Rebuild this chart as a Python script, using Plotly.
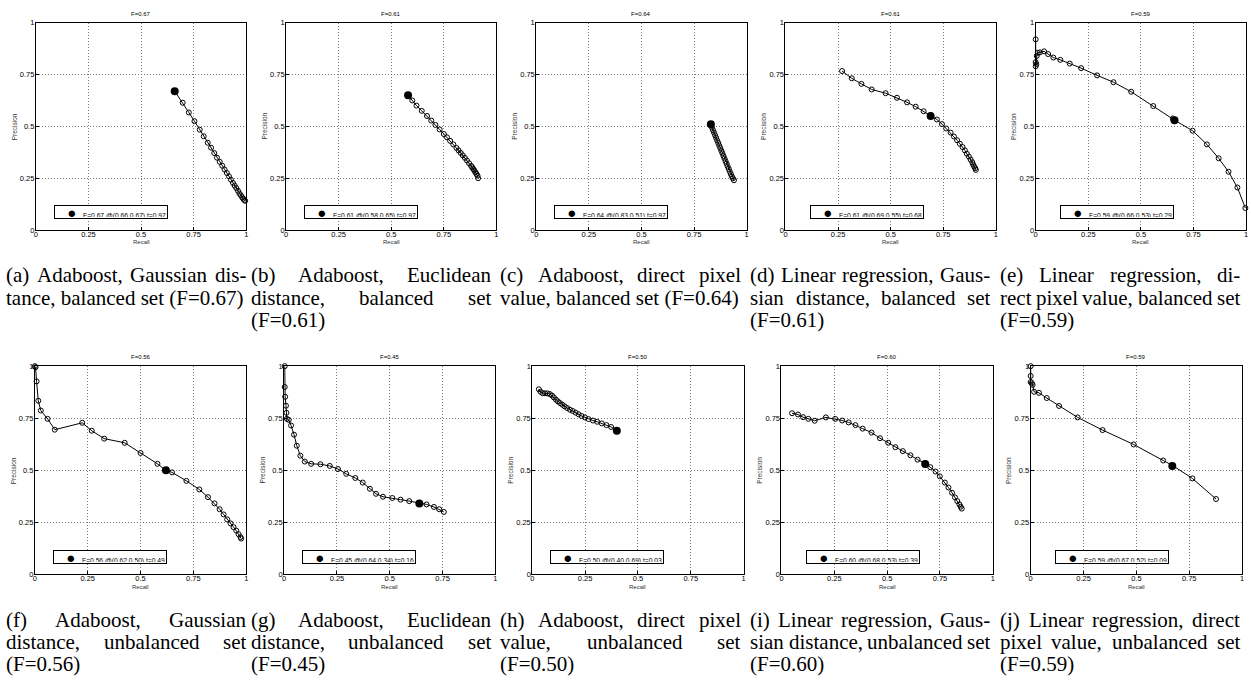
import plotly.graph_objects as go

# ---------------- data ----------------
recall_a = [0.66, 0.698, 0.727, 0.754, 0.779, 0.798, 0.817, 0.833, 0.848, 0.861, 0.874, 0.886, 0.897,
            0.908, 0.918, 0.927, 0.937, 0.945, 0.953, 0.961, 0.968, 0.975, 0.981, 0.986, 0.991, 0.995]
precision_a = [0.67, 0.614, 0.567, 0.525, 0.484, 0.452, 0.421, 0.397, 0.371, 0.349, 0.329, 0.310, 0.292,
               0.275, 0.259, 0.243, 0.227, 0.214, 0.202, 0.189, 0.176, 0.167, 0.157, 0.151, 0.144, 0.141]

recall_b = [0.58, 0.60, 0.62, 0.645, 0.67, 0.69, 0.71, 0.73, 0.75, 0.765, 0.78, 0.795, 0.81, 0.82,
            0.83, 0.84, 0.85, 0.86, 0.87, 0.88, 0.885, 0.89, 0.895, 0.90, 0.905, 0.91, 0.913]
precision_b = [0.65, 0.625, 0.60, 0.575, 0.55, 0.528, 0.507, 0.485, 0.463, 0.447, 0.43, 0.413, 0.396, 0.384,
               0.372, 0.36, 0.348, 0.335, 0.322, 0.309, 0.302, 0.294, 0.287, 0.279, 0.271, 0.262, 0.25]

recall_c = [0.83, 0.835, 0.84, 0.845, 0.85, 0.855, 0.86, 0.865, 0.87, 0.875, 0.88, 0.885, 0.89,
            0.895, 0.90, 0.905, 0.91, 0.915, 0.92, 0.925, 0.93, 0.935, 0.94]
precision_c = [0.51, 0.495, 0.482, 0.47, 0.457, 0.445, 0.432, 0.42, 0.407, 0.395, 0.382, 0.37, 0.357,
               0.345, 0.332, 0.32, 0.307, 0.295, 0.282, 0.27, 0.258, 0.249, 0.24]

recall_d = [0.269, 0.315, 0.361, 0.41, 0.476, 0.530, 0.578, 0.619, 0.657, 0.69, 0.720, 0.744, 0.764, 0.785,
            0.801, 0.816, 0.829, 0.842, 0.853, 0.862, 0.872, 0.880, 0.888, 0.892, 0.897, 0.902, 0.905]
precision_d = [0.767, 0.732, 0.705, 0.678, 0.660, 0.638, 0.616, 0.595, 0.573, 0.554, 0.533, 0.511, 0.490, 0.470,
               0.451, 0.433, 0.416, 0.40, 0.384, 0.368, 0.354, 0.340, 0.327, 0.316, 0.306, 0.298, 0.29]

recall_e = [0.0, 0.0, 0.0, 0.003, 0.005, 0.01, 0.02, 0.04, 0.059, 0.084, 0.117, 0.162, 0.216,
            0.292, 0.37, 0.454, 0.559, 0.652, 0.66, 0.746, 0.814, 0.87, 0.917, 0.959, 0.997]
precision_e = [0.92, 0.81, 0.79, 0.80, 0.84, 0.855, 0.857, 0.862, 0.849, 0.832, 0.821, 0.803, 0.781,
               0.746, 0.713, 0.667, 0.598, 0.538, 0.53, 0.479, 0.413, 0.346, 0.281, 0.205, 0.106]

recall_f = [0.0, 0.003, 0.008, 0.016, 0.028, 0.06, 0.094, 0.224, 0.269, 0.328, 0.425, 0.50, 0.58, 0.62,
            0.649, 0.717, 0.778, 0.819, 0.85, 0.874, 0.893, 0.91, 0.926, 0.94, 0.953, 0.964, 0.973, 0.976]
precision_f = [1.0, 0.995, 0.927, 0.834, 0.787, 0.747, 0.695, 0.728, 0.690, 0.652, 0.632, 0.583, 0.531, 0.50,
               0.49, 0.449, 0.408, 0.371, 0.341, 0.313, 0.288, 0.264, 0.245, 0.227, 0.21, 0.193, 0.179, 0.172]

recall_g = [0.003, 0.003, 0.005, 0.009, 0.011, 0.013, 0.022, 0.033, 0.047, 0.06, 0.077, 0.098, 0.128, 0.172,
            0.216, 0.255, 0.294, 0.337, 0.372, 0.406, 0.435, 0.468, 0.512, 0.551, 0.592, 0.64, 0.674, 0.709,
            0.734, 0.756]
precision_g = [1.0, 0.90, 0.853, 0.81, 0.776, 0.747, 0.742, 0.715, 0.671, 0.618, 0.57, 0.542, 0.531, 0.529,
               0.521, 0.506, 0.483, 0.463, 0.441, 0.411, 0.387, 0.373, 0.367, 0.359, 0.352, 0.342, 0.336, 0.324,
               0.313, 0.30]

recall_h = [0.031, 0.039, 0.049, 0.06, 0.072, 0.083, 0.093, 0.102, 0.112, 0.121, 0.131, 0.142, 0.153, 0.165,
            0.178, 0.191, 0.205, 0.219, 0.233, 0.249, 0.266, 0.287, 0.307, 0.329, 0.351, 0.373, 0.40]
precision_h = [0.889, 0.877, 0.87, 0.87, 0.869, 0.866, 0.859, 0.85, 0.839, 0.831, 0.823, 0.815, 0.807, 0.799,
               0.791, 0.785, 0.777, 0.769, 0.761, 0.754, 0.746, 0.739, 0.733, 0.725, 0.717, 0.708, 0.69]

recall_i = [0.05, 0.078, 0.102, 0.127, 0.157, 0.21, 0.254, 0.287, 0.318, 0.35, 0.384, 0.426, 0.466, 0.505,
            0.539, 0.574, 0.61, 0.644, 0.68, 0.704, 0.729, 0.749, 0.773, 0.79, 0.807, 0.821, 0.832, 0.842,
            0.848, 0.853]
precision_i = [0.774, 0.768, 0.755, 0.747, 0.738, 0.754, 0.747, 0.739, 0.73, 0.717, 0.70, 0.681, 0.654, 0.632,
               0.611, 0.592, 0.572, 0.551, 0.534, 0.515, 0.494, 0.471, 0.441, 0.417, 0.392, 0.37, 0.352, 0.336,
               0.325, 0.316]

recall_j = [0.0, 0.0, 0.0, 0.005, 0.009, 0.016, 0.039, 0.076, 0.134, 0.222, 0.34, 0.487, 0.627, 0.67, 0.765, 0.877]
precision_j = [1.0, 0.953, 0.924, 0.918, 0.91, 0.877, 0.872, 0.847, 0.809, 0.754, 0.693, 0.624, 0.547, 0.524,
               0.461, 0.362]

best_recall = [0.66, 0.58, 0.83, 0.69, 0.66, 0.62, 0.64, 0.40, 0.68, 0.67]
best_precision = [0.67, 0.65, 0.51, 0.55, 0.53, 0.50, 0.34, 0.69, 0.53, 0.52]
best_threshold = [0.97, 0.97, 0.97, 0.68, 0.29, 0.49, 0.16, 0.03, 0.39, 0.09]
f_scores = [0.67, 0.61, 0.64, 0.61, 0.59, 0.56, 0.45, 0.50, 0.60, 0.59]

tick_vals = [0, 0.25, 0.5, 0.75, 1]
tick_text = ["0", "0.25", "0.5", "0.75", "1"]

captions = [
    ["(a) Adaboost, Gaussian dis-", "tance, balanced set (F=0.67)"],
    ["(b) Adaboost, Euclidean", "distance, balanced set", "(F=0.61)"],
    ["(c) Adaboost, direct pixel", "value, balanced set (F=0.64)"],
    ["(d) Linear regression, Gaus-", "sian distance, balanced set", "(F=0.61)"],
    ["(e) Linear regression, di-", "rect pixel value, balanced set", "(F=0.59)"],
    ["(f) Adaboost, Gaussian", "distance, unbalanced set", "(F=0.56)"],
    ["(g) Adaboost, Euclidean", "distance, unbalanced set", "(F=0.45)"],
    ["(h) Adaboost, direct pixel", "value, unbalanced set", "(F=0.50)"],
    ["(i) Linear regression, Gaus-", "sian distance, unbalanced set", "(F=0.60)"],
    ["(j) Linear regression, direct", "pixel value, unbalanced set", "(F=0.59)"],
]

recalls = [recall_a, recall_b, recall_c, recall_d, recall_e, recall_f, recall_g, recall_h, recall_i, recall_j]
precisions = [precision_a, precision_b, precision_c, precision_d, precision_e,
              precision_f, precision_g, precision_h, precision_i, precision_j]

# ---------------- layout geometry ----------------
W, H = 1251, 684
row_top = [19, 367]
row_bot = [229, 578]
col_left = [[34, 285, 536, 786, 1037], [33, 283, 532, 782, 1032]]
plot_w = [211, 212]
legend_x = [0.085, 0.085, 0.085, 0.115, 0.115, 0.085, 0.085, 0.085, 0.115, 0.115]

SANS = "Liberation Sans, Arial, Helvetica, sans-serif"
SERIF = "Liberation Serif, Times New Roman, serif"

fig = go.Figure()
annotations = []
layout = {}

for k in range(10):
    row, col = divmod(k, 5)
    sfx = "" if k == 0 else str(k + 1)
    xa, ya = "x" + sfx, "y" + sfx
    x0 = col_left[row][col]
    x1 = x0 + plot_w[row]
    y0, y1 = row_top[row], row_bot[row]

    fig.add_trace(go.Scatter(
        x=recalls[k], y=precisions[k], mode="lines+markers",
        line=dict(color="black", width=1),
        marker=dict(symbol="circle-open", size=5, color="black", line=dict(width=1)),
        xaxis=xa, yaxis=ya, showlegend=False, cliponaxis=False, hoverinfo="skip"))
    fig.add_trace(go.Scatter(
        x=[best_recall[k]], y=[best_precision[k]], mode="markers",
        marker=dict(symbol="circle", size=8, color="black"),
        xaxis=xa, yaxis=ya, showlegend=False, cliponaxis=False, hoverinfo="skip"))

    common = dict(range=[0, 1], showline=True, mirror=True, linecolor="black", linewidth=1,
                  showgrid=True, gridcolor="#7a7a7a", griddash="1px,2px", gridwidth=1, zeroline=False,
                  ticks="inside", ticklen=3, tickcolor="black", tickvals=tick_vals, ticktext=tick_text,
                  tickfont=dict(family=SANS, size=7.5, color="black"), fixedrange=True)
    layout["xaxis" + sfx] = dict(common, domain=[x0 / W, x1 / W], anchor=ya, ticklabelstandoff=-3)
    layout["yaxis" + sfx] = dict(common, domain=[1 - y1 / H, 1 - y0 / H], anchor=xa, ticklabelstandoff=-1)

    cx = (x0 + x1) / 2
    annotations.append(dict(text="F=%.2f" % f_scores[k], x=cx / W, y=1 - (y0 - 9) / H, xref="paper", yref="paper",
                            showarrow=False, font=dict(family=SANS, size=6, color="black"),
                            xanchor="center", yanchor="middle"))
    annotations.append(dict(text="Recall", x=cx / W, y=1 - (y1 + 12.5) / H, xref="paper", yref="paper",
                            showarrow=False, font=dict(family=SANS, size=6, color="#333"),
                            xanchor="center", yanchor="middle"))
    annotations.append(dict(text="Precision", x=(x0 - 22) / W, y=1 - (y0 + y1) / 2 / H, xref="paper", yref="paper",
                            showarrow=False, textangle=-90, font=dict(family=SANS, size=6.5, color="#333"),
                            xanchor="center", yanchor="middle"))
    leg_txt = ('<span style="font-size:15px">\u25cf</span>\u2002\u2002F=%.2f @(%.2f,%.2f) t=%.2f'
               % (f_scores[k], best_recall[k], best_precision[k], best_threshold[k]))
    annotations.append(dict(text=leg_txt, x=legend_x[k], y=0.052, xref=xa + " domain", yref=ya + " domain",
                            showarrow=False, xanchor="left", yanchor="bottom", align="right",
                            width=110, height=10, bgcolor="white", bordercolor="black", borderwidth=1,
                            borderpad=1, font=dict(family=SANS, size=6.7, color="black")))

# ---------------- captions (justified like the LaTeX source) ----------------
TIMES_W = {' ': 250, '(': 333, ')': 333, ',': 250, '.': 250, '-': 333, '=': 564,
           'a': 444, 'b': 500, 'c': 444, 'd': 500, 'e': 444, 'f': 333, 'g': 500, 'h': 500, 'i': 278,
           'j': 278, 'k': 500, 'l': 278, 'm': 778, 'n': 500, 'o': 500, 'p': 500, 'q': 500, 'r': 333,
           's': 389, 't': 278, 'u': 500, 'v': 500, 'w': 722, 'x': 500, 'y': 500, 'z': 444,
           'A': 722, 'E': 611, 'F': 556, 'G': 722, 'L': 611}


def text_w(s, size):
    return sum(TIMES_W.get(ch, 500) for ch in s) * size / 1000.0


CAP_SIZE = 21
COL_W = 241
cap_x0 = [3, 248.5, 499, 749.5, 1000]
cap_y = [[275, 297.5, 320], [624, 646.5, 669]]

for k, lines in enumerate(captions):
    row, col = divmod(k, 5)
    for li, line in enumerate(lines):
        yy = 1 - cap_y[row][li] / H
        last = li == len(lines) - 1
        words = line.split(" ")
        if last or len(words) < 2:
            annotations.append(dict(text=line, x=cap_x0[col] / W, y=yy, xref="paper", yref="paper",
                                    showarrow=False, xanchor="left", yanchor="middle", borderpad=0,
                                    font=dict(family=SERIF, size=CAP_SIZE, color="black")))
            continue
        total = sum(text_w(w, CAP_SIZE) for w in words)
        gap = (COL_W - total) / (len(words) - 1)
        xpos = cap_x0[col]
        for w in words:
            annotations.append(dict(text=w, x=xpos / W, y=yy, xref="paper", yref="paper",
                                    showarrow=False, xanchor="left", yanchor="middle", borderpad=0,
                                    font=dict(family=SERIF, size=CAP_SIZE, color="black")))
            xpos += text_w(w, CAP_SIZE) + gap

fig.update_layout(width=W, height=H, margin=dict(l=0, r=0, t=0, b=0),
                  paper_bgcolor="white", plot_bgcolor="white", annotations=annotations, **layout)

fig.write_html("out.html", config={"displayModeBar": False},
               post_script="document.body.style.margin='0';document.body.style.overflow='hidden';")
